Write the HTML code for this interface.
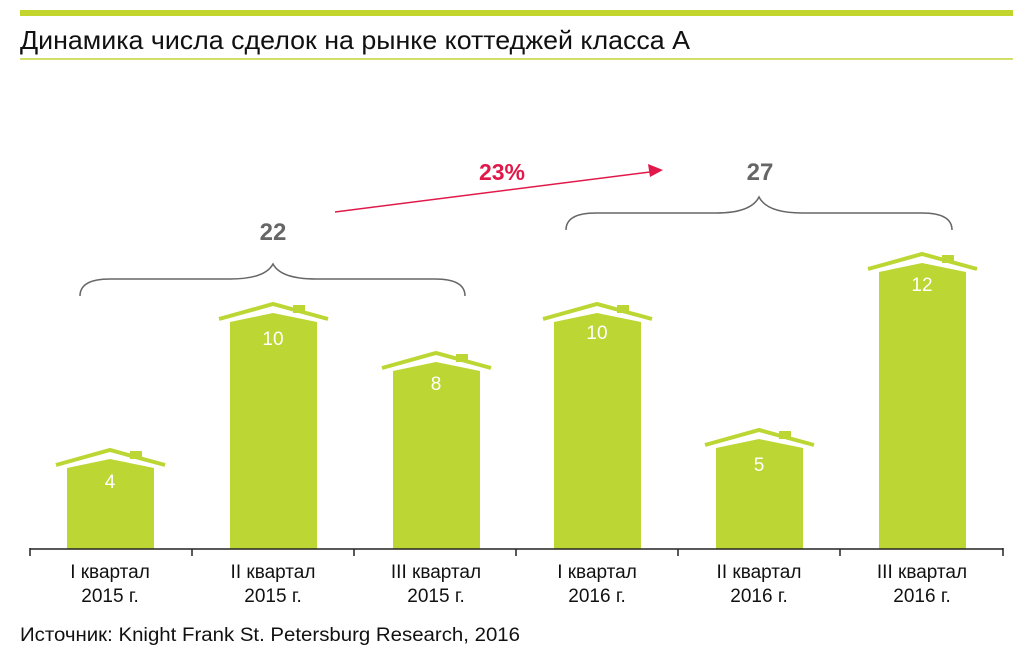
<!DOCTYPE html>
<html><head><meta charset="utf-8"><style>
html,body{margin:0;padding:0;background:#fff}
svg{display:block}
text{font-family:"Liberation Sans",sans-serif}
</style></head><body>
<svg width="1015" height="661" viewBox="0 0 1015 661" xmlns="http://www.w3.org/2000/svg">
<rect x="20" y="10" width="993" height="6" fill="#c2d52c"/>
<text x="20" y="49" font-size="26" fill="#111" textLength="670" lengthAdjust="spacingAndGlyphs">Динамика числа сделок на рынке коттеджей класса А</text>
<rect x="20" y="58" width="993" height="2" fill="#d2df6a"/>

<g fill="#bcd633" stroke="none">
  <polygon points="67,468 110,459 154,468 154,549 67,549"/>
  <polyline points="56,465 110,450 165,465" fill="none" stroke="#bcd633" stroke-width="4"/>
  <rect x="130" y="451" width="12" height="8"/>
  <polygon points="230,322 273,313 317,322 317,549 230,549"/>
  <polyline points="219,319 273,304 328,319" fill="none" stroke="#bcd633" stroke-width="4"/>
  <rect x="293" y="305" width="12" height="8"/>
  <polygon points="393,371 436,362 480,371 480,549 393,549"/>
  <polyline points="382,368 436,353 491,368" fill="none" stroke="#bcd633" stroke-width="4"/>
  <rect x="456" y="354" width="12" height="8"/>
  <polygon points="554,322 597,313 641,322 641,549 554,549"/>
  <polyline points="543,319 597,304 652,319" fill="none" stroke="#bcd633" stroke-width="4"/>
  <rect x="617" y="305" width="12" height="8"/>
  <polygon points="716,448 759,439 803,448 803,549 716,549"/>
  <polyline points="705,445 759,430 814,445" fill="none" stroke="#bcd633" stroke-width="4"/>
  <rect x="779" y="431" width="12" height="8"/>
  <polygon points="879,272 922,263 966,272 966,549 879,549"/>
  <polyline points="868,269 922,254 977,269" fill="none" stroke="#bcd633" stroke-width="4"/>
  <rect x="942" y="255" width="12" height="8"/>
</g>
<g fill="#fff" font-size="19" text-anchor="middle">
  <text x="110" y="488">4</text>
  <text x="273" y="345">10</text>
  <text x="436" y="390">8</text>
  <text x="597" y="339">10</text>
  <text x="759" y="471">5</text>
  <text x="922" y="291">12</text>
</g>
<g stroke="#222" stroke-width="1.5" fill="none">
  <line x1="30" y1="549" x2="1003" y2="549"/>
  <line x1="30" y1="548" x2="30" y2="556"/>
  <line x1="192" y1="549" x2="192" y2="556"/>
  <line x1="354" y1="549" x2="354" y2="556"/>
  <line x1="516" y1="549" x2="516" y2="556"/>
  <line x1="678" y1="549" x2="678" y2="556"/>
  <line x1="840" y1="549" x2="840" y2="556"/>
  <line x1="1003" y1="548" x2="1003" y2="556"/>
</g>
<g font-size="19" fill="#111" text-anchor="middle">
  <text x="110" y="578">I квартал</text><text x="110" y="602">2015 г.</text>
  <text x="273" y="578">II квартал</text><text x="273" y="602">2015 г.</text>
  <text x="436" y="578">III квартал</text><text x="436" y="602">2015 г.</text>
  <text x="597" y="578">I квартал</text><text x="597" y="602">2016 г.</text>
  <text x="759" y="578">II квартал</text><text x="759" y="602">2016 г.</text>
  <text x="922" y="578">III квартал</text><text x="922" y="602">2016 г.</text>
</g>
<text x="20" y="641" font-size="19" fill="#111" textLength="500" lengthAdjust="spacingAndGlyphs">Источник: Knight Frank St. Petersburg Research, 2016</text>

<g stroke="#666" stroke-width="1.5" fill="none">
  <path d="M80,296 Q80,279 110,279 L230,279 Q265,279 273,264 Q281,279 316,279 L435,279 Q465,279 465,296"/>
  <path d="M566,230 Q566,213 596,213 L716,213 Q751,213 759,197 Q767,213 802,213 L922,213 Q952,213 952,230"/>
</g>
<g font-size="24" font-weight="bold" fill="#666" text-anchor="middle">
  <text x="273" y="240">22</text>
  <text x="760" y="180">27</text>
</g>
<line x1="335" y1="212" x2="650" y2="172" stroke="#e0194a" stroke-width="1.5"/>
<polygon points="663,170 648,164 650,177" fill="#e0194a"/>
<text x="502" y="180" font-size="23" font-weight="bold" fill="#e0194a" text-anchor="middle">23%</text>
</svg>
</body></html>
